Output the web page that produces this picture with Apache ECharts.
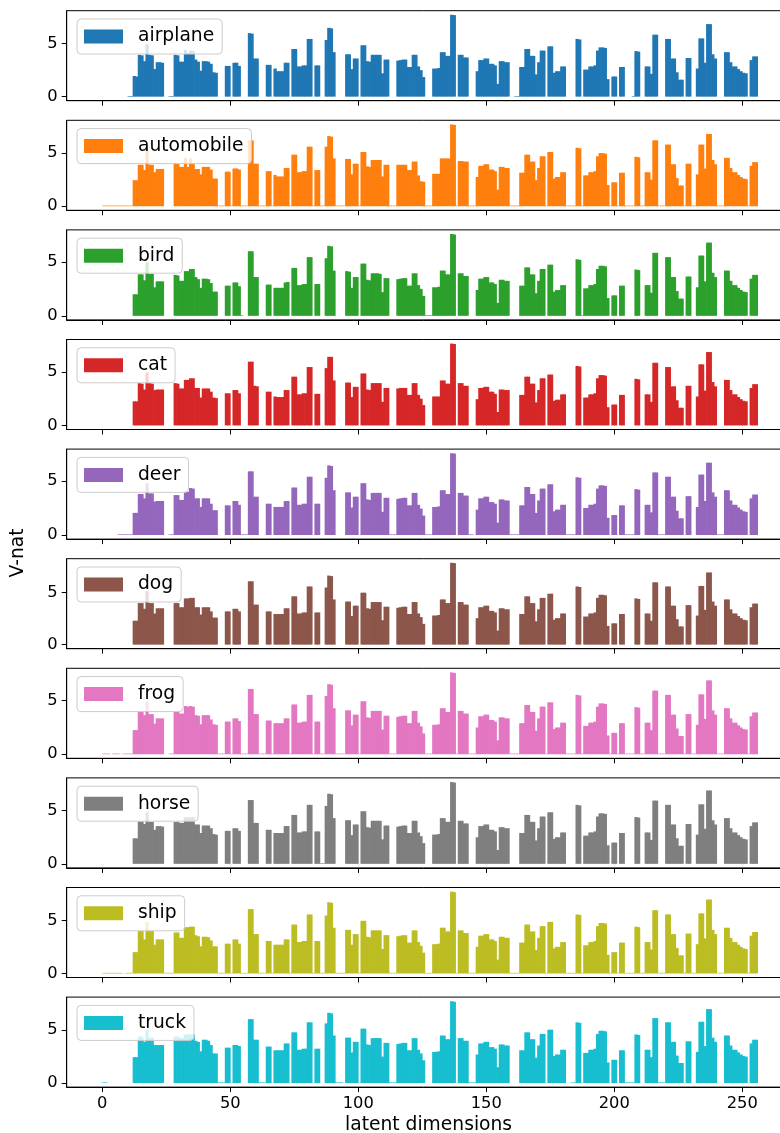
<!DOCTYPE html>
<html>
<head>
<meta charset="utf-8">
<title>V-nat per latent dimension</title>
<script src="https://cdn.jsdelivr.net/npm/echarts@6/dist/echarts.min.js"></script>
<style>
  html, body { margin: 0; padding: 0; background: #fff; }
  #chart { width: 780px; height: 1133px; }
</style>
</head>
<body>
<div id="chart"></div>
<script>
// class names, one panel each
const classNames = ['airplane', 'automobile', 'bird', 'cat', 'deer', 'dog', 'frog', 'horse', 'ship', 'truck']

// V-nat per latent dimension (0..255)
const airplane = [
  0,0,0,0,0,0,0,0,0,0,0.05,0.05,1.95,1.9,3.95,3.9,
  3.35,4.95,3.95,3.9,2.6,3.25,3.25,3.2,0,0,0.05,0.05,3.95,3.9,3.3,3.3,
  4.4,4.1,4.35,4.3,3.5,3.3,2.45,3.35,3.35,3.3,3.1,2.3,2.25,0,0,0,
  2.9,2.9,0,3.2,3.2,2.9,0,0,0,6.0,5.95,3.6,3.6,0,0,0,
  3.0,3.0,0,2.65,2.4,2.4,2.4,3.2,3.2,0,4.5,4.5,2.85,2.85,2.95,2.95,
  5.45,5.45,0,2.95,2.95,0,0,5.35,6.5,6.45,4.2,0,0,0,0,4.0,
  4.0,2.6,3.6,3.6,0,4.85,4.85,3.35,3.3,3.95,3.95,3.95,3.95,2.2,3.5,3.5,
  0,0,0,3.4,3.45,3.5,3.5,2.8,2.8,3.95,3.95,2.85,2.5,1.85,0,0,
  0,2.65,2.65,2.7,4.2,4.2,3.85,3.85,7.73,7.7,0,3.95,3.95,3.7,3.7,0,
  0,0,2.4,3.45,3.45,3.6,3.6,3.1,3.1,2.95,1.2,3.35,3.35,3.25,3.25,0,
  0,0.05,0.05,2.8,2.8,4.5,4.5,3.85,3.85,2.1,3.25,4.35,4.35,0,4.75,4.75,
  2.25,2.4,2.4,2.85,2.85,0,0,0,0,5.45,5.4,0,2.55,2.55,2.85,2.85,
  2.95,4.35,4.65,4.65,4.6,1.65,0,1.9,1.9,0,2.8,2.8,0,0,0,0.05,
  4.3,4.25,0,0,2.85,2.85,2.15,5.85,5.85,0,0,0,5.45,5.45,3.6,3.6,
  2.3,1.6,1.6,0,3.65,3.65,0,0,2.65,5.5,5.5,3.2,6.85,6.85,4.0,3.6,
  0,0,0,4.2,4.2,3.25,2.85,2.85,2.6,2.4,2.25,2.2,0,3.45,3.8,3.8
]

const automobile = [
  0.05,0.05,0.05,0.05,0.05,0.05,0.05,0.05,0.05,0.05,0.05,0.05,2.45,2.45,3.9,3.9,
  3.4,5.3,3.9,3.9,3.2,3.5,3.5,3.5,0,0,0,0,4.0,4.0,3.7,3.7,
  4.55,3.7,4.5,4.0,3.5,3.5,3.0,3.7,3.7,3.7,3.45,2.6,2.6,0.05,0.05,0.05,
  3.25,3.25,0.05,3.55,3.55,3.45,0.05,0.05,0.05,6.2,6.2,4.0,4.0,0.05,0.05,0.05,
  3.3,3.3,0.05,2.95,2.8,2.8,2.8,3.6,3.6,0.05,4.85,4.85,3.2,3.2,3.3,3.3,
  5.6,5.6,0.05,3.4,3.4,0.05,0.05,5.6,6.6,6.55,4.5,0.05,0.05,0.05,0.05,4.45,
  4.45,3.0,4.0,4.0,0.05,5.1,5.1,3.75,3.7,4.35,4.35,4.35,4.35,2.8,3.9,3.9,
  0.05,0.05,0.05,3.9,3.9,3.9,3.9,3.4,3.4,4.2,4.2,2.9,2.35,2.3,0.05,0.05,
  0.05,3.05,3.05,3.05,4.5,4.5,4.5,4.5,7.7,7.65,0.05,4.25,4.25,4.2,4.2,0.05,
  0.05,0.05,2.75,3.8,3.8,3.95,3.95,3.45,3.45,3.3,1.55,3.7,3.7,3.6,3.6,0.05,
  0.05,0.05,0.05,3.15,3.15,4.85,4.85,4.2,4.2,2.45,3.6,4.7,4.7,0.05,5.1,5.1,
  2.6,2.75,2.75,3.2,3.2,0.05,0.05,0.05,0.05,5.5,5.45,0.05,2.9,2.9,3.2,3.2,
  3.3,4.7,5.0,5.0,4.95,2.0,0.05,2.25,2.25,0.05,3.15,3.15,0.05,0.05,0.05,0.05,
  4.65,4.6,0.05,0.05,3.2,3.2,2.5,6.2,6.2,0.05,0.05,0.05,5.8,5.8,3.95,3.95,
  2.65,1.95,1.95,0.05,4.0,4.0,0.05,0.05,3.0,5.8,5.8,3.55,6.8,6.8,4.35,3.95,
  0.05,0.05,0.05,4.55,4.55,3.6,3.2,3.2,2.95,2.75,2.6,2.55,0.05,3.8,4.15,4.15
]

const bird = [
  0,0,0,0,0,0,0,0,0,0,0,0,2.0,2.0,3.85,3.85,
  3.3,4.95,3.9,3.9,2.65,3.2,3.2,3.2,0,0,0,0,3.8,3.75,3.25,3.25,
  4.15,4.15,4.35,4.35,3.6,3.4,2.6,3.45,3.45,3.4,3.05,2.25,2.25,0,0,0,
  2.8,2.8,0,3.1,3.1,2.75,0.05,0,0,6.0,6.0,3.6,3.6,0,0,0,
  2.9,2.9,0,2.6,2.6,2.6,2.6,3.1,3.15,0,4.45,4.45,2.85,2.85,2.95,2.95,
  5.45,5.45,0,2.95,2.95,0,0,5.35,6.5,6.45,4.2,0,0,0,0,4.15,
  4.1,2.6,3.6,3.6,0,4.85,4.85,3.35,3.3,3.95,3.95,3.95,3.9,2.2,3.5,3.5,
  0,0,0,3.4,3.45,3.5,3.5,2.8,2.8,3.95,3.95,2.85,2.5,1.85,0.05,0.05,
  0.05,2.65,2.65,2.7,4.2,4.2,3.85,3.85,7.6,7.55,0,3.95,3.95,3.7,3.7,0,
  0,0,2.4,3.45,3.45,3.6,3.6,3.1,3.1,2.95,1.2,3.35,3.35,3.25,3.25,0,
  0,0,0,2.8,2.8,4.5,4.5,3.85,3.85,2.1,3.25,4.35,4.35,0,4.75,4.75,
  2.25,2.4,2.4,2.85,2.85,0,0,0,0,5.25,5.2,0.05,2.55,2.55,2.85,2.85,
  2.95,4.35,4.65,4.65,4.6,1.65,0,1.9,1.9,0,2.8,2.8,0,0,0,0,
  4.3,4.25,0,0,2.85,2.85,2.15,5.85,5.85,0,0,0,5.45,5.45,3.6,3.6,
  2.3,1.6,1.6,0,3.65,3.65,0,0,2.65,5.6,5.6,3.2,6.8,6.8,4.0,3.6,
  0,0,0,4.2,4.2,3.25,2.85,2.85,2.6,2.4,2.25,2.2,0,3.45,3.8,3.8
]

const cat = [
  0,0,0,0,0,0,0,0,0,0,0,0,2.25,2.25,3.95,3.9,
  3.35,4.95,3.95,3.9,3.3,3.35,3.35,3.35,0,0,0,0,3.95,3.9,3.45,3.45,
  4.25,4.25,4.4,4.4,3.5,3.5,2.6,3.45,3.45,3.45,3.15,2.6,2.55,0,0,0,
  3.0,3.0,0,3.3,3.3,3.0,0,0,0,5.95,5.95,3.7,3.65,0,0,0,
  3.15,3.15,0,2.7,2.65,2.65,2.65,3.3,3.3,0,4.55,4.55,2.9,2.9,3.0,3.0,
  5.45,5.45,0,2.95,2.95,0,0,5.35,6.4,6.4,4.2,0,0,0,0,4.0,
  4.0,2.65,3.6,3.6,0,4.85,4.85,3.35,3.3,3.95,3.95,3.95,3.95,2.2,3.5,3.5,
  0,0,0,3.45,3.5,3.5,3.5,2.85,2.85,3.95,3.95,2.85,2.5,1.9,0,0,
  0,2.7,2.7,2.7,4.2,4.2,3.9,3.9,7.64,7.6,0,3.95,3.95,3.7,3.7,0,
  0,0,2.45,3.5,3.5,3.6,3.6,3.15,3.15,2.95,1.25,3.35,3.35,3.3,3.3,0,
  0,0,0,2.85,2.85,4.55,4.55,3.9,3.9,2.15,3.3,4.4,4.4,0,4.75,4.75,
  2.3,2.4,2.4,2.9,2.9,0,0,0,0,5.55,5.5,0,2.6,2.6,2.9,2.9,
  3.0,4.4,4.7,4.7,4.65,1.7,0,1.95,1.95,0,2.85,2.85,0,0,0,0,
  4.35,4.3,0,0,2.9,2.9,2.2,5.85,5.85,0,0,0,5.45,5.45,3.65,3.65,
  2.35,1.65,1.65,0,3.7,3.7,0,0,2.7,5.7,5.7,3.25,6.85,6.85,4.05,3.65,
  0,0,0,4.25,4.25,3.3,2.9,2.9,2.65,2.45,2.3,2.25,0,3.5,3.85,3.85
]

const deer = [
  0,0,0,0,0,0,0.05,0.05,0.05,0.05,0.05,0.05,2.05,2.05,3.8,3.8,
  3.4,4.8,3.85,3.85,3.1,3.15,3.15,3.15,0,0,0.05,0.05,3.7,3.7,3.25,3.25,
  4.0,4.0,4.35,4.3,3.4,3.4,2.6,3.4,3.4,3.4,2.9,2.3,2.3,0,0,0,
  2.75,2.75,0,3.15,3.15,2.8,0.05,0.05,0.05,5.9,5.9,3.55,3.55,0,0,0,
  2.9,2.9,0,2.6,2.6,2.6,2.6,3.15,3.15,0,4.4,4.4,2.8,2.8,2.9,2.9,
  5.4,5.4,0,2.9,2.9,0,0,5.3,6.45,6.4,4.15,0,0,0,0,3.95,
  3.95,2.55,3.55,3.55,0,4.8,4.8,3.3,3.25,3.9,3.9,3.9,3.9,2.15,3.45,3.45,
  0.05,0.05,0.05,3.35,3.4,3.45,3.45,2.75,2.75,3.9,3.9,2.8,2.45,1.8,0.05,0.05,
  0.05,2.6,2.6,2.65,4.15,4.15,3.8,3.8,7.58,7.55,0,3.9,3.9,3.65,3.65,0.05,
  0.05,0,2.35,3.4,3.4,3.55,3.55,3.05,3.05,2.9,1.15,3.3,3.3,3.2,3.2,0.05,
  0.05,0.05,0.05,2.75,2.75,4.45,4.45,3.8,3.8,2.05,3.2,4.3,4.3,0,4.7,4.7,
  2.2,2.35,2.35,2.8,2.8,0.05,0.05,0.05,0.05,5.35,5.3,0,2.5,2.5,2.8,2.8,
  2.9,4.3,4.6,4.6,4.55,1.6,0,1.85,1.85,0,2.75,2.75,0.05,0.05,0.05,0.05,
  4.25,4.2,0,0,2.8,2.8,2.1,5.8,5.8,0.05,0.05,0.05,5.4,5.4,3.55,3.55,
  2.25,1.55,1.55,0,3.6,3.6,0,0,2.6,5.6,5.6,3.15,6.7,6.7,3.95,3.55,
  0.05,0.05,0.05,4.15,4.15,3.2,2.8,2.8,2.55,2.35,2.2,2.15,0,3.4,3.75,3.75
]

const dog = [
  0,0,0,0,0,0,0,0,0,0,0,0,2.3,2.3,4.0,4.0,
  3.45,5.15,4.0,4.0,3.0,3.5,3.5,3.5,0,0,0,0,4.0,4.0,3.6,3.6,
  4.45,4.45,4.5,4.5,3.6,3.6,2.9,3.6,3.6,3.6,3.2,2.6,2.6,0,0,0,
  3.2,3.2,0,3.45,3.45,3.2,0,0,0,6.1,6.1,3.85,3.85,0,0,0,
  3.2,3.2,0,2.95,2.95,2.95,2.95,3.5,3.5,0,4.65,4.65,3.0,3.0,3.1,3.1,
  5.6,5.6,0,3.1,3.1,0,0,5.5,6.65,6.6,4.35,0,0,0,0,4.15,
  4.15,2.75,3.75,3.75,0,5.0,5.0,3.5,3.45,4.1,4.1,4.1,4.1,2.35,3.65,3.65,
  0,0,0,3.55,3.6,3.65,3.65,2.95,2.95,4.1,4.1,3.0,2.65,2.0,0,0,
  0,2.8,2.8,2.85,4.35,4.35,4.0,4.0,7.88,7.85,0,4.1,4.1,3.85,3.85,0,
  0,0,2.55,3.6,3.6,3.75,3.75,3.25,3.25,3.1,1.35,3.5,3.5,3.4,3.4,0,
  0,0,0,2.95,2.95,4.65,4.65,4.0,4.0,2.25,3.4,4.5,4.5,0,4.9,4.9,
  2.4,2.55,2.55,3.0,3.0,0,0,0,0,5.6,5.55,0,2.7,2.7,3.0,3.0,
  3.1,4.5,4.8,4.8,4.75,1.8,0,2.05,2.05,0,2.95,2.95,0,0,0,0,
  4.45,4.4,0,0,3.0,3.0,2.3,6.0,6.0,0,0,0,5.6,5.6,3.75,3.75,
  2.45,1.75,1.75,0,3.8,3.8,0,0,2.8,5.65,5.65,3.35,6.95,6.95,4.15,3.75,
  0,0,0,4.35,4.35,3.4,3.0,3.0,2.75,2.55,2.4,2.35,0,3.6,3.95,3.95
]

const frog = [
  0.05,0.05,0.05,0,0.05,0.05,0.05,0,0.05,0.05,0.05,0.05,2.25,2.25,4.0,4.0,
  3.65,4.95,3.75,3.75,2.85,3.35,3.35,3.35,0,0,0.05,0.05,4.0,4.0,3.8,3.8,
  4.5,4.45,4.5,4.45,3.65,3.6,2.8,3.65,3.65,3.65,3.25,2.8,2.75,0.05,0.05,0.05,
  3.05,3.05,0.05,3.35,3.35,3.1,0.05,0.05,0.05,6.1,6.1,3.75,3.75,0.05,0.05,0.05,
  3.15,3.15,0.05,2.9,2.9,2.9,2.9,3.35,3.35,0.05,4.65,4.65,2.95,2.95,3.05,3.05,
  5.55,5.55,0.05,3.05,3.05,0.05,0.05,5.45,6.55,6.5,4.3,0.05,0.05,0.05,0.05,4.1,
  4.1,2.7,3.7,3.7,0.05,4.95,4.95,3.45,3.4,4.05,4.05,4.05,4.05,2.3,3.6,3.6,
  0.05,0.05,0.05,3.5,3.55,3.6,3.6,2.9,2.9,4.05,4.05,2.95,2.6,1.95,0.05,0.05,
  0.05,2.75,2.75,2.8,4.3,4.3,3.95,3.95,7.65,7.6,0.05,4.05,4.05,3.8,3.8,0.05,
  0.05,0.05,2.5,3.55,3.55,3.7,3.7,3.2,3.2,3.05,1.3,3.45,3.45,3.35,3.35,0.05,
  0.05,0.05,0.05,2.9,2.9,4.6,4.6,3.95,3.95,2.2,3.35,4.45,4.45,0.05,4.85,4.85,
  2.35,2.5,2.5,2.95,2.95,0.05,0.05,0.05,0.05,5.55,5.5,0.05,2.65,2.65,2.95,2.95,
  3.05,4.45,4.75,4.75,4.7,1.75,0.05,2.0,2.0,0.05,2.9,2.9,0.05,0.05,0.05,0.05,
  4.4,4.35,0.05,0.05,2.95,2.95,2.25,5.95,5.95,0.05,0.05,0.05,5.55,5.55,3.7,3.7,
  2.4,1.7,1.7,0.05,3.75,3.75,0.05,0.05,2.75,5.6,5.6,3.3,6.9,6.9,4.1,3.7,
  0.05,0.05,0.05,4.3,4.3,3.35,2.95,2.95,2.7,2.5,2.35,2.3,0.05,3.55,3.9,3.9
]

const horse = [
  0,0,0,0,0,0,0,0,0,0,0,0,2.4,2.4,4.0,4.0,
  3.75,4.85,3.95,3.95,3.2,3.55,3.55,3.5,0,0,0,0,3.95,3.95,3.85,3.85,
  4.4,4.4,4.4,4.4,3.7,3.7,2.9,3.6,3.6,3.6,3.35,2.8,2.75,0,0,0,
  3.1,3.1,0,3.35,3.35,3.1,0,0,0,6.0,6.0,3.85,3.85,0,0,0,
  3.2,3.2,0,2.9,2.9,2.9,2.9,3.55,3.55,0,4.6,4.6,2.95,2.95,3.05,3.05,
  5.55,5.55,0,3.05,3.05,0.05,0.05,5.45,6.6,6.55,4.3,0,0,0,0,4.1,
  4.1,2.7,3.7,3.7,0,4.95,4.95,3.45,3.4,4.05,4.05,4.05,4.05,2.3,3.6,3.6,
  0,0,0,3.5,3.55,3.6,3.6,2.9,2.9,4.05,4.05,2.95,2.6,1.95,0,0,
  0,2.75,2.75,2.8,4.3,4.3,3.95,3.95,7.7,7.65,0,4.05,4.05,3.8,3.8,0,
  0,0,2.5,3.55,3.55,3.7,3.7,3.2,3.2,3.05,1.3,3.45,3.45,3.35,3.35,0,
  0,0,0,2.9,2.9,4.6,4.6,3.95,3.95,2.2,3.35,4.45,4.45,0,4.85,4.85,
  2.35,2.5,2.5,2.95,2.95,0,0,0,0,5.55,5.5,0,2.65,2.65,2.95,2.95,
  3.05,4.45,4.75,4.75,4.7,1.75,0,2.0,2.0,0,2.9,2.9,0,0,0,0,
  4.4,4.35,0,0,2.95,2.95,2.25,5.95,5.95,0,0,0,5.55,5.55,3.7,3.7,
  2.4,1.7,1.7,0,3.75,3.75,0,0,2.75,5.6,5.6,3.3,6.9,6.9,4.1,3.7,
  0,0,0,4.3,4.3,3.35,2.95,2.95,2.7,2.5,2.35,2.3,0,3.55,3.9,3.9
]

const ship = [
  0.05,0.05,0.05,0.05,0.05,0.05,0.05,0.05,0,0.05,0.05,0.05,2.0,2.0,4.0,4.0,
  3.2,4.85,4.0,4.0,2.7,3.2,3.2,3.2,0.05,0.05,0.05,0.05,3.85,3.85,3.35,3.35,
  4.35,4.35,4.4,4.4,3.6,3.5,2.55,3.45,3.45,3.4,3.1,2.55,2.55,0.05,0.05,0.05,
  2.8,2.8,0.05,3.2,3.2,2.8,0.05,0.05,0.05,6.05,6.05,3.7,3.7,0.05,0.05,0.05,
  3.05,3.05,0.05,2.7,2.7,2.7,2.7,3.2,3.2,0.05,4.6,4.6,2.95,2.95,3.05,3.05,
  5.55,5.55,0.05,3.05,3.05,0.05,0.05,5.45,6.7,6.65,4.3,0.05,0.05,0.05,0.05,4.1,
  4.1,2.7,3.7,3.7,0.05,4.95,4.95,3.45,3.4,4.05,4.05,4.05,4.05,2.3,3.6,3.6,
  0.05,0.05,0.05,3.5,3.55,3.6,3.6,2.9,2.9,4.05,4.05,2.95,2.6,1.95,0.05,0.05,
  0.05,2.75,2.75,2.8,4.3,4.3,3.95,3.95,7.7,7.65,0.05,4.05,4.05,3.8,3.8,0.05,
  0.05,0.05,2.5,3.55,3.55,3.7,3.7,3.2,3.2,3.05,1.3,3.45,3.45,3.35,3.35,0.05,
  0.05,0.05,0.05,2.9,2.9,4.6,4.6,3.95,3.95,2.2,3.35,4.45,4.45,0.05,4.85,4.85,
  2.35,2.5,2.5,2.95,2.95,0.05,0.05,0.05,0.05,5.55,5.5,0.05,2.65,2.65,2.95,2.95,
  3.05,4.45,4.75,4.75,4.7,1.75,0.05,2.0,2.0,0.05,2.9,2.9,0.05,0.05,0.05,0.05,
  4.4,4.35,0.05,0.05,2.95,2.95,2.25,5.95,5.95,0.05,0.05,0.05,5.55,5.55,3.7,3.7,
  2.4,1.7,1.7,0.05,3.75,3.75,0.05,0.05,2.75,5.65,5.65,3.3,6.95,6.95,4.1,3.7,
  0.05,0.05,0.05,4.3,4.3,3.35,2.95,2.95,2.7,2.5,2.35,2.3,0.05,3.55,3.9,3.9
]

const truck = [
  0.05,0.05,0,0,0,0,0,0,0,0,0,0,2.45,2.45,4.4,4.4,
  3.9,5.05,4.3,4.3,3.6,3.6,3.6,3.6,0,0,0,0,4.4,4.4,4.25,4.25,
  4.6,4.6,4.6,4.6,4.0,3.9,3.0,4.1,4.1,4.0,3.6,2.8,2.8,0.05,0.05,0.05,
  3.35,3.35,0,3.6,3.6,3.5,0,0,0,6.05,6.05,4.1,4.1,0.05,0.05,0.05,
  3.45,3.45,0,3.1,3.1,3.1,3.1,3.75,3.75,0,4.8,4.8,3.15,3.15,3.25,3.25,
  5.75,5.75,0,3.25,3.25,0,0,5.65,6.65,6.6,4.5,0.05,0.05,0.05,0,4.3,
  4.3,2.9,3.9,3.9,0,5.15,5.15,3.65,3.6,4.25,4.25,4.25,4.25,2.5,3.8,3.8,
  0.05,0.05,0.05,3.7,3.75,3.8,3.8,3.1,3.1,4.25,4.25,3.15,2.8,2.15,0,0,
  0,2.95,2.95,3.0,4.5,4.5,4.15,4.15,7.75,7.7,0,4.25,4.25,4.0,4.0,0.05,
  0.05,0.05,2.7,3.75,3.75,3.9,3.9,3.4,3.4,3.25,1.5,3.65,3.65,3.55,3.55,0,
  0,0,0,3.1,3.1,4.8,4.8,4.15,4.15,2.4,3.55,4.65,4.65,0,5.05,5.05,
  2.55,2.7,2.7,3.15,3.15,0,0,0.05,0.05,5.75,5.7,0,2.85,2.85,3.15,3.15,
  3.25,4.65,4.95,4.95,4.9,1.95,0,2.2,2.2,0,3.1,3.1,0.05,0.05,0.05,0.05,
  4.6,4.55,0,0,3.15,3.15,2.45,6.15,6.15,0.05,0.05,0.05,5.75,5.75,3.9,3.9,
  2.6,1.9,1.9,0,3.95,3.95,0,0,2.95,5.8,5.8,3.5,7.0,7.0,4.3,3.9,
  0,0,0,4.5,4.5,3.55,3.15,3.15,2.9,2.7,2.55,2.5,0,3.75,4.1,4.1
]

const xTicks = [0, 50, 100, 150, 200, 250]
const yTicks = [0, 5]
const xLabel = 'latent dimensions'
const yLabel = 'V-nat'

const classValues = [airplane, automobile, bird, cat, deer, dog, frog, horse, ship, truck]
const colors = ['#1f77b4', '#ff7f0e', '#2ca02c', '#d62728', '#9467bd',
  '#8c564b', '#e377c2', '#7f7f7f', '#bcbd22', '#17becf']

const font = 'DejaVu Sans'
const panelTop = k => 10.7 + 109.6 * k

const grids = []
const xAxes = []
const yAxes = []
const legends = []
const series = []

classNames.forEach((name, k) => {
  const last = k === classNames.length - 1
  grids.push({
    left: 66.7,
    top: panelTop(k),
    width: 723.7,
    height: 90,
    show: true,
    borderColor: '#000',
    borderWidth: 1,
    outerBoundsMode: 'none'
  })
  xAxes.push({
    type: 'value',
    gridIndex: k,
    min: -13.9,
    max: 268.8,
    splitLine: { show: false },
    axisLine: { show: true, onZero: false, lineStyle: { color: '#000', width: 1 } },
    axisTick: { show: true, length: 5, customValues: xTicks, lineStyle: { color: '#000' } },
    axisLabel: {
      show: last,
      customValues: xTicks,
      margin: 9,
      fontSize: 16.3,
      color: '#000',
      fontFamily: font
    },
    name: last ? xLabel : '',
    nameLocation: 'middle',
    nameGap: 29,
    nameTextStyle: { fontSize: 18.7, color: '#000', fontFamily: font }
  })
  yAxes.push({
    type: 'value',
    gridIndex: k,
    min: v => -0.05 * v.max,
    max: v => 1.05 * v.max,
    splitLine: { show: false },
    axisLine: { show: true, onZero: false, lineStyle: { color: '#000', width: 1 } },
    axisTick: { show: true, length: 5, customValues: yTicks, lineStyle: { color: '#000' } },
    axisLabel: {
      customValues: yTicks,
      margin: 9,
      fontSize: 16.3,
      color: '#000',
      fontFamily: font
    }
  })
  legends.push({
    data: [name],
    left: 77,
    top: panelTop(k) + 8.3,
    icon: 'rect',
    itemWidth: 39,
    itemHeight: 14,
    padding: [6.5, 8, 6.5, 7],
    backgroundColor: 'rgba(255,255,255,0.8)',
    borderColor: '#cccccc',
    borderWidth: 1,
    borderRadius: 4,
    selectedMode: false,
    textStyle: {
      fontSize: 18.7,
      lineHeight: 22,
      color: '#000',
      fontFamily: font,
      padding: [0, 0, 0, 10]
    }
  })
  series.push({
    type: 'bar',
    name: name,
    xAxisIndex: k,
    yAxisIndex: k,
    // bars sit on [i, i+1] like matplotlib align='edge'
    data: classValues[k].map((v, i) => [i + 0.5, v]),
    // a bit wider than one step so neighbours overlap and leave no seams
    barWidth: 3.3,
    itemStyle: { color: colors[k] },
    silent: true
  })
})

const chart = echarts.init(document.getElementById('chart'), null, { renderer: 'canvas' })
chart.setOption({
  animation: false,
  backgroundColor: '#fff',
  grid: grids,
  xAxis: xAxes,
  yAxis: yAxes,
  legend: legends,
  series: series,
  graphic: [{
    type: 'text',
    x: 18,
    y: 553,
    rotation: Math.PI / 2,
    style: {
      text: yLabel,
      fontSize: 18.7,
      fontFamily: font,
      fill: '#000',
      align: 'center',
      verticalAlign: 'middle'
    }
  }]
})
</script>
</body>
</html>
